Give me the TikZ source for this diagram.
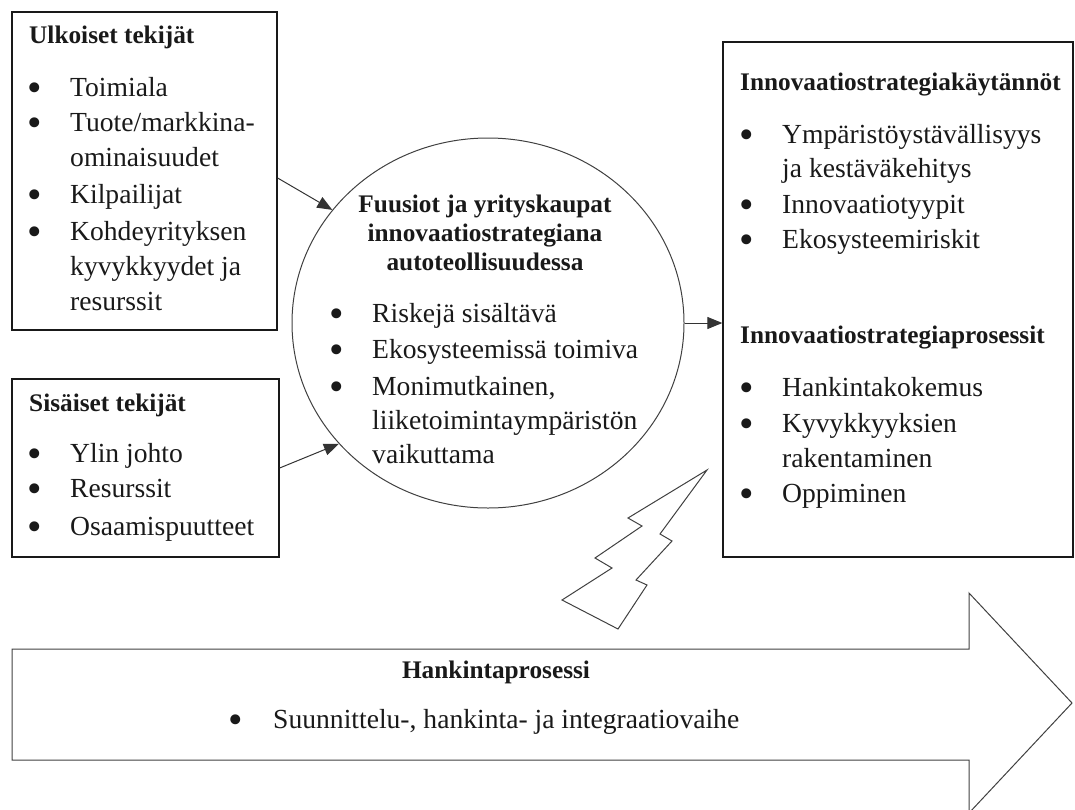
\documentclass[tikz,border=0pt]{standalone}
\usepackage{fontspec}
\setmainfont{Liberation Serif}
\usetikzlibrary{shapes.geometric,arrows.meta}
\newcommand\mybodyfont{\fontsize{27.6}{33}\selectfont}
\newcommand\myhdrfont{\fontsize{25.3}{30}\selectfont\bfseries}
\begin{document}
\begin{tikzpicture}[x=1pt,y=-1pt,
  box/.style={draw=black!90, line width=1.3pt, rectangle, inner sep=0pt},
  txt/.style={anchor=base west, inner sep=0pt, font=\mybodyfont, text=black!90},
  hdr/.style={anchor=base west, inner sep=0pt, font=\myhdrfont, text=black!90},
  chdr/.style={anchor=base, inner sep=0pt, font=\myhdrfont, text=black!90},
  bul/.style={anchor=base, inner sep=0pt, font=\mybodyfont, text=black!90, scale=1.5, yshift=-3.5pt},
  conn/.style={draw=black!80, line width=1pt, -{Triangle[length=15pt,width=12pt]}},
  thin/.style={draw=black!75, line width=1pt, line join=miter}]
\useasboundingbox (0,0) rectangle (1075,809);
\clip (0,0) rectangle (1075,809);

% boxes
\node[box, minimum width=265pt, minimum height=318pt] (u1) at (144.5,171) {};
\node[box, minimum width=267pt, minimum height=178pt] (s2) at (145.5,468) {};
\node[box, minimum width=350pt, minimum height=515pt] (rb) at (898,299.5) {};
\node[draw=black!75, line width=1pt, ellipse, minimum width=392pt, minimum height=370pt, inner sep=0pt] (circ) at (488,323) {};

% big arrow
\draw[thin] (12,649) -- (969,649) -- (969,593) -- (1072,703) -- (969,813) -- (969,760) -- (12,760) -- cycle;

% lightning
\draw[thin] (707,470) -- (628,518) -- (642,526) -- (595,558) -- (612,568) -- (562,600) -- (618,629) -- (647,585) -- (636,580) -- (672,541) -- (660,534) -- cycle;

% box 1 text
\node[hdr] (u1h) at (29,43) {Ulkoiset tekijät};
\node[bul] (u1b1) at (35,96) {•};
\node[txt] (u1t1) at (70,96) {Toimiala};
\node[bul] (u1b2) at (35,131) {•};
\node[txt] (u1t2) at (70,131) {Tuote/markkina-};
\node[txt] (u1t3) at (70,166) {ominaisuudet};
\node[bul] (u1b3) at (35,203) {•};
\node[txt] (u1t4) at (70,203) {Kilpailijat};
\node[bul] (u1b4) at (35,240) {•};
\node[txt] (u1t5) at (70,240) {Kohdeyrityksen};
\node[txt] (u1t6) at (70,275) {kyvykkyydet ja};
\node[txt] (u1t7) at (70,310) {resurssit};

% box 2 text
\node[hdr] (s2h) at (29,411) {Sisäiset tekijät};
\node[bul] (s2b1) at (35,462) {•};
\node[txt] (s2t1) at (70,462) {Ylin johto};
\node[bul] (s2b2) at (35,497) {•};
\node[txt] (s2t2) at (70,497) {Resurssit};
\node[bul] (s2b3) at (35,535) {•};
\node[txt] (s2t3) at (70,535) {Osaamispuutteet};

% right box text
\node[hdr] (rh1) at (740,90) {Innovaatiostrategiakäytännöt};
\node[bul] (rb1) at (747,143) {•};
\node[txt] (rt1) at (782,143) {Ympäristöystävällisyys};
\node[txt] (rt2) at (782,177) {ja kestäväkehitys};
\node[bul] (rb2) at (747,213) {•};
\node[txt] (rt3) at (782,213) {Innovaatiotyypit};
\node[bul] (rb3) at (747,248) {•};
\node[txt] (rt4) at (782,248) {Ekosysteemiriskit};
\node[hdr] (rh2) at (740,343) {Innovaatiostrategiaprosessit};
\node[bul] (rb4) at (747,396) {•};
\node[txt] (rt5) at (782,396) {Hankintakokemus};
\node[bul] (rb5) at (747,432) {•};
\node[txt] (rt6) at (782,432) {Kyvykkyyksien};
\node[txt] (rt7) at (782,467) {rakentaminen};
\node[bul] (rb6) at (747,502) {•};
\node[txt] (rt8) at (782,502) {Oppiminen};

% circle text
\node[chdr] (ch1) at (485,212) {Fuusiot ja yrityskaupat};
\node[chdr] (ch2) at (485,241) {innovaatiostrategiana};
\node[chdr] (ch3) at (485,270) {autoteollisuudessa};
\node[bul] (cb1) at (337,322) {•};
\node[txt] (ct1) at (372,322) {Riskejä sisältävä};
\node[bul] (cb2) at (337,358) {•};
\node[txt] (ct2) at (372,358) {Ekosysteemissä toimiva};
\node[bul] (cb3) at (337,395) {•};
\node[txt] (ct3) at (372,395) {Monimutkainen,};
\node[txt] (ct4) at (372,429) {liiketoimintaympäristön};
\node[txt] (ct5) at (372,463) {vaikuttama};

% big arrow text
\node[chdr] (bah) at (496,678) {Hankintaprosessi};
\node[bul] (bab) at (236,728) {•};
\node[txt] (bat) at (273,728) {Suunnittelu-, hankinta- ja integraatiovaihe};

% connectors
\draw[conn] ([yshift=-7pt]u1.east) -- (circ.144);
\draw[conn] (s2.east) -- (circ.219);
\draw[conn] (circ.east) -- (circ.east -| rb.west);
\end{tikzpicture}
\end{document}
